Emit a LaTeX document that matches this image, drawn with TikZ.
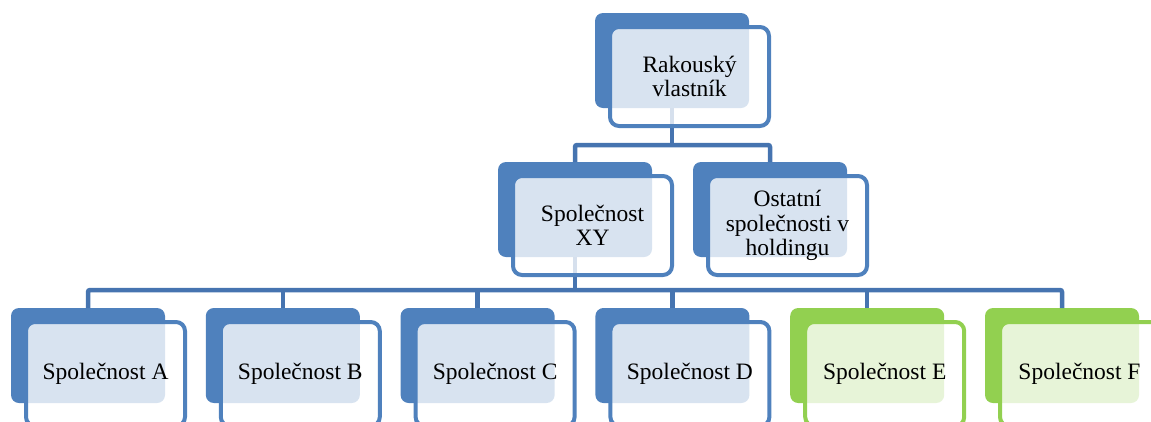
\documentclass[tikz,border=0pt]{standalone}
\usepackage{fontspec}
\setmainfont{Liberation Serif}
\usetikzlibrary{calc}
\definecolor{bl}{HTML}{4F81BD}
\definecolor{gr}{HTML}{92D050}
\definecolor{ln}{HTML}{4674B0}
\tikzset{
  backbox/.style={rectangle, rounded corners=8pt, fill=#1, draw=none, minimum width=154pt, minimum height=95pt, inner sep=0pt, outer sep=0pt, anchor=north west},
  frontbox/.style={rectangle, rounded corners=9pt, fill=white, fill opacity=0.78, text opacity=1, draw=#1, draw opacity=1, line width=4pt, minimum width=159pt, minimum height=99pt, inner sep=0pt, outer sep=0pt, anchor=north west, align=center, font=\fontsize{23.5}{24.5}\selectfont},
  lowbox/.style={frontbox=#1, minimum height=104pt},
  conn/.style={draw=ln, line width=4.5pt, rounded corners=2pt}
}
\begin{document}
\begin{tikzpicture}[x=1pt,y=-1pt]
\useasboundingbox (0,0) rectangle (1151,421);
% back boxes
\node[backbox=bl] (topb) at (595,13) {};
\node[backbox=bl] (xyb) at (498,162) {};
\node[backbox=bl] (ostb) at (693,162) {};
\node[backbox=bl] (ab) at (11,308) {};
\node[backbox=bl] (bb) at (205.8,308) {};
\node[backbox=bl] (cb) at (400.6,308) {};
\node[backbox=bl] (db) at (595.4,308) {};
\node[backbox=gr] (eb) at (790.2,308) {};
\node[backbox=gr] (fb) at (985,308) {};
% connectors
\coordinate (j1) at (672,145);
\coordinate (j2) at (575,290);
\draw[conn] (topb.south) -- (j1);
\draw[conn] (xyb.north) |- (j1) -| (ostb.north);
\draw[conn] (xyb.south) -- (j2);
\draw[conn] (ab.north) |- (j2) -| (fb.north);
\draw[conn] (bb.north) -- (bb.north |- j2);
\draw[conn] (cb.north) -- (cb.north |- j2);
\draw[conn] (db.north) -- (db.north |- j2);
\draw[conn] (eb.north) -- (eb.north |- j2);
% front boxes
\node[frontbox=bl] (topf) at (610,27) {Rakouský\\vlastník};
\node[frontbox=bl] (xyf) at (513,176) {Společnost\\XY};
\node[frontbox=bl] (ostf) at (708,176) {Ostatní\\společnosti v\\holdingu};
\node[lowbox=bl] (af) at (26,322) {Společnost A};
\node[lowbox=bl] (bf) at (220.8,322) {Společnost B};
\node[lowbox=bl] (cf) at (415.6,322) {Společnost C};
\node[lowbox=bl] (df) at (610.4,322) {Společnost D};
\node[lowbox=gr] (ef) at (805.2,322) {Společnost E};
\node[lowbox=gr] (ff) at (1000,322) {Společnost F};
\end{tikzpicture}
\end{document}
